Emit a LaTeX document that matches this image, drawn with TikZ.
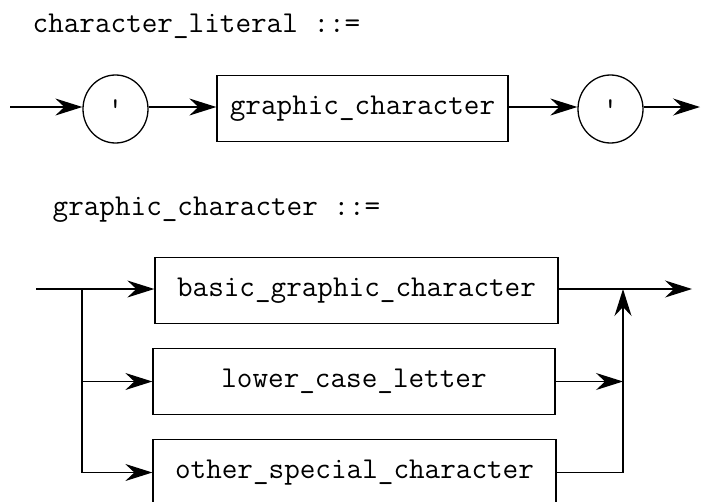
\documentclass[tikz,border=0pt]{standalone}
\usepackage{fontspec}
\usetikzlibrary{arrows.meta, calc, shapes.geometric}

\begin{document}
\begin{tikzpicture}[
    x=1pt, y=-1pt,
    >={Stealth[length=27pt, width=17pt, inset=9pt]},
    line width=1.3pt,
    every node/.style={font=\ttfamily\fontsize{30.3}{34}\selectfont, inner sep=0pt},
    bnfbox/.style={draw, rectangle, minimum height=66pt},
    bnfcirc/.style={draw, ellipse, minimum width=65pt, minimum height=68pt},
]
\useasboundingbox (0,0) rectangle (701,501);
\clip (0,0) rectangle (701,501);
% character_literal ::= ' graphic_character '
\node[anchor=base west] (title1) at (32,32) {character\_literal ::=};
\coordinate (start) at (10,107);
\node[bnfcirc] (quote1) at (115.5,109) {\textquotesingle};
\node[bnfbox, minimum width=291pt] (gchar) at (362.5,108.5) {graphic\_character};
\node[bnfcirc] (quote2) at (610.5,109) {\textquotesingle};
\coordinate (stop) at (700,107);
\draw[->] (start) -- (quote1.west |- start);
\draw[->] (quote1.east |- start) -- (gchar.west |- start);
\draw[->] (gchar.east |- start) -- (quote2.west |- start);
\draw[->] (quote2.east |- start) -- (stop);
% graphic_character ::= one of three alternatives
\node[anchor=base west] (title2) at (52,215) {graphic\_character ::=};
\node[bnfbox, minimum width=403pt] (basic) at (356.5,290.5) {basic\_graphic\_character};
\node[bnfbox, minimum width=402pt] (lower) at (354,381.5) {lower\_case\_letter};
\node[bnfbox, minimum width=403pt] (other) at (354.5,472.5) {other\_special\_character};
\coordinate (in) at (36,289);
\coordinate (split) at (82,289);
\coordinate (join) at (623,289);
\coordinate (out) at (692,289);
\draw (in) -- (split);
\draw[->] (split) -- (basic.west |- split);
\draw[->] (split) |- (lower.west);
\draw[->] (split) |- (other.west);
\draw (basic.east |- join) -- (join);
\draw[->] (join) -- (out);
\draw[->] (lower.east) -- (lower.east -| join);
\draw[->] (other.east) -| (join);
\end{tikzpicture}
\end{document}
